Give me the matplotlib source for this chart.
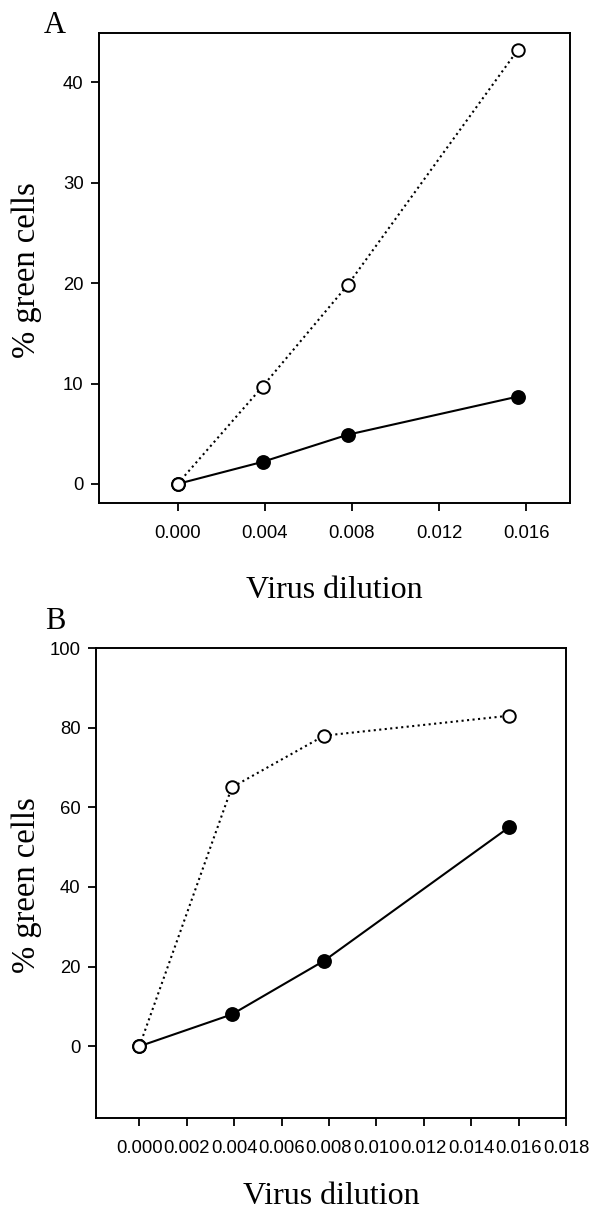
import matplotlib
matplotlib.use("Agg")
import matplotlib.pyplot as plt

dilution = [0.0, 0.0039, 0.0078, 0.0156]

# panel A
a_open = [0.0, 9.7, 19.8, 43.2]
a_filled = [0.0, 2.2, 4.9, 8.7]
a_xticks = [0.0, 0.004, 0.008, 0.012, 0.016]
a_yticks = [0, 10, 20, 30, 40]

# panel B
b_open = [0.0, 65.0, 78.0, 83.0]
b_filled = [0.0, 8.0, 21.5, 55.0]
b_xticks = [0.0, 0.002, 0.004, 0.006, 0.008, 0.010, 0.012, 0.014, 0.016, 0.018]
b_yticks = [0, 20, 40, 60, 80, 100]

serif = "Liberation Serif"
sans = "Liberation Sans"

fig = plt.figure(figsize=(5.9, 12.11), dpi=100)
axA = fig.add_axes([0.1678, 0.5846, 0.7983, 0.3881])
axB = fig.add_axes([0.1627, 0.0768, 0.7966, 0.3881])


def draw(ax, op, fi, xt, yt, xlim, ylim, ylab_x, xpad):
    ax.plot(dilution, fi, "-", color="black", lw=1.5, marker="o", ms=9.5,
            mfc="black", mec="black", mew=1.2, zorder=2)
    ax.plot(dilution, op, ":", color="black", lw=1.5, marker="o", ms=9,
            mfc="white", mec="black", mew=1.4, zorder=3)
    ax.set_xlim(*xlim)
    ax.set_ylim(*ylim)
    ax.set_xticks(xt)
    ax.set_xticklabels(["%.3f" % v for v in xt], fontsize=13.3, family=sans)
    ax.set_yticks(yt)
    ax.set_yticklabels([str(v) for v in yt], fontsize=13.3, family=sans)
    ax.tick_params(direction="out", length=6, width=1.3, pad=10)
    ax.tick_params(axis="y", pad=5)
    for s in ax.spines.values():
        s.set_linewidth(1.4)
    ax.set_xlabel("Virus dilution", fontsize=23, family=serif, labelpad=xpad)
    ax.set_ylabel("% green cells", fontsize=23.5, family=serif, va="center")
    ax.yaxis.set_label_coords(ylab_x, 0.495)


draw(axA, a_open, a_filled, a_xticks, a_yticks, (-0.0036, 0.018), (-1.9, 44.9), -0.153, 24)
draw(axB, b_open, b_filled, b_xticks, b_yticks, (-0.00183, 0.018), (-18, 100), -0.147, 18)

fig.text(0.092, 0.979, "A", fontsize=22, family=serif, ha="center", va="center")
fig.text(0.093, 0.487, "B", fontsize=22, family=serif, ha="center", va="center")

fig.savefig("out.png", dpi=100)
